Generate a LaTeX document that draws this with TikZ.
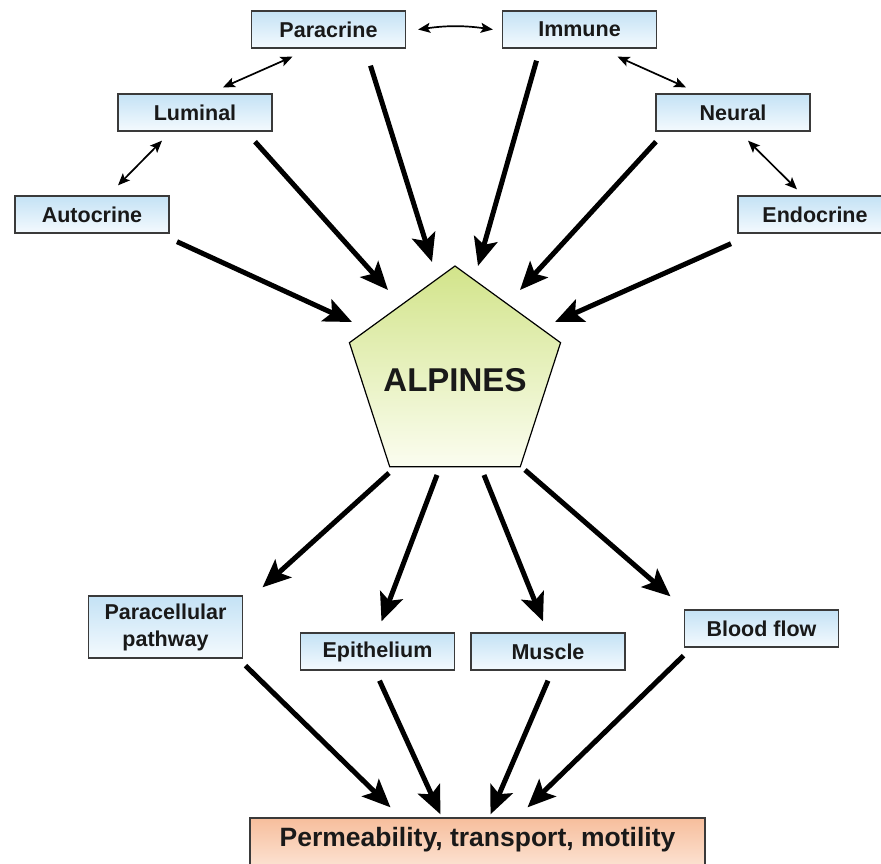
\documentclass[tikz,border=0pt]{standalone}
\usepackage{fontspec}
\setmainfont{Liberation Sans}
\usetikzlibrary{arrows.meta,shapes.geometric}
\definecolor{boxtop}{HTML}{C4E2F5}
\definecolor{boxbot}{HTML}{F4FAFE}
\definecolor{pentop}{HTML}{D2E48A}
\definecolor{penbot}{HTML}{FBFDF0}
\definecolor{outtop}{HTML}{F7BE9C}
\definecolor{outbot}{HTML}{FDEBDF}
\definecolor{edge}{HTML}{3A3A3A}
\tikzset{
  srcbox/.style={draw=edge,line width=1.3pt,top color=boxtop,bottom color=boxbot,
    minimum width=154pt,minimum height=37pt,inner sep=0pt,
    font=\fontsize{21.5}{24}\selectfont\bfseries,text=black!90},
  penta/.style={regular polygon,regular polygon sides=5,minimum size=222pt,inner sep=0pt,
    draw=black,line width=1.2pt,top color=pentop,bottom color=penbot},
  outbox/.style={draw=edge,line width=1.3pt,top color=outtop,bottom color=outbot,
    minimum width=455pt,minimum height=60pt,inner sep=0pt},
  big/.style={line width=5pt,-{Stealth[length=28pt,width=24pt,inset=6pt]}},
  thin/.style={line width=1.7pt,{Stealth[length=12pt,width=10pt,inset=2.5pt]}-{Stealth[length=12pt,width=10pt,inset=2.5pt]}}
}
\begin{document}
\begin{tikzpicture}[x=1pt,y=-1pt]
\useasboundingbox (0,0) rectangle (881,863);
\node[srcbox] (para) at (328.5,29.5) {Paracrine};
\node[srcbox] (immu) at (579.5,29.5) {Immune};
\node[srcbox] (lumi) at (195,112.5) {Luminal};
\node[srcbox] (neur) at (733,112.5) {Neural};
\node[srcbox] (auto) at (92,214.5) {Autocrine};
\node[srcbox] (endo) at (815,214.5) {Endocrine};
\node[penta] (alp) at (455,377) {};
\node[font=\fontsize{33}{36}\selectfont\bfseries,text=black!90] (alpt) at (455,380) {ALPINES};
\node[srcbox,minimum height=62pt,align=center,font=\fontsize{21.5}{27}\selectfont\bfseries] (parc) at (165.5,627) {Paracellular\\pathway};
\node[srcbox] (epit) at (377.5,651.5) {Epithelium};
\node[srcbox] (musc) at (548,651.5) {Muscle};
\node[srcbox] (blood) at (761.5,628.5) {Blood flow};
\node[outbox] (out) at (477.5,848) {};
\node[font=\fontsize{26.5}{29}\selectfont\bfseries,text=black!90] (outt) at (477.5,840) {Permeability, transport, motility};
% thin double arrows
\draw[thin] ([xshift=12pt]para.east) to[bend left=8] ([xshift=-9pt]immu.west);
\draw[thin] ([xshift=-36pt,yshift=-8pt]para.south) -- ([xshift=28pt,yshift=6pt]lumi.north);
\draw[thin] ([xshift=-33pt,yshift=-9pt]lumi.south) -- ([xshift=26pt,yshift=10pt]auto.north);
\draw[thin] ([xshift=38pt,yshift=-8pt]immu.south) -- ([xshift=-47pt,yshift=6pt]neur.north);
\draw[thin] ([xshift=15pt,yshift=-9pt]neur.south) -- ([xshift=-18pt,yshift=6pt]endo.north);
% into ALPINES
\draw[big] ([xshift=85pt,yshift=-8pt]auto.south) -- (352,322);
\draw[big] ([xshift=60pt,yshift=-10pt]lumi.south) -- (388,290);
\draw[big] ([xshift=42pt,yshift=-17pt]para.south) -- (432,262);
\draw[big] ([xshift=-43pt,yshift=-12pt]immu.south) -- (478,266);
\draw[big] ([xshift=-77pt,yshift=-10pt]neur.south) -- (520,290);
\draw[big] ([xshift=-84pt,yshift=-10pt]endo.south) -- (555,322);
% out of ALPINES
\draw[big] (389,473) -- ([xshift=97pt,yshift=8pt]parc.north);
\draw[big] (437,475) -- ([xshift=4pt,yshift=11pt]epit.north);
\draw[big] (484,475) -- ([xshift=-5pt,yshift=11pt]musc.north);
\draw[big] (525,470) -- ([xshift=-91pt,yshift=13pt]blood.north);
% into outcome
\draw[big] ([xshift=80pt,yshift=-7pt]parc.south) -- ([xshift=-87pt,yshift=10pt]out.north);
\draw[big] ([xshift=2pt,yshift=-10pt]epit.south) -- ([xshift=-37pt,yshift=3pt]out.north);
\draw[big] ([xshift=0pt,yshift=-10pt]musc.south) -- ([xshift=13pt,yshift=3pt]out.north);
\draw[big] ([xshift=-78pt,yshift=-8pt]blood.south) -- ([xshift=50pt,yshift=10pt]out.north);
\end{tikzpicture}
\end{document}
